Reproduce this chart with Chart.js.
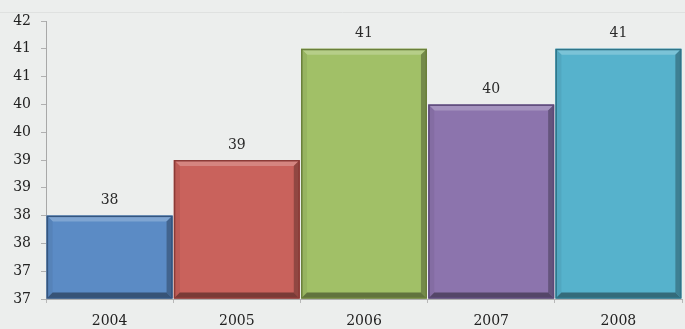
<!DOCTYPE html>
<html>
<head>
<meta charset="utf-8">
<script src="https://cdn.jsdelivr.net/npm/chart.js@4"></script>
<style>
  html, body { margin: 0; padding: 0; background: #eceeed; }
  #wrap { width: 685px; height: 329px; }
</style>
</head>
<body>
<div id="wrap"><canvas id="barChart" width="685" height="329"></canvas></div>
<script>
// Data
var years  = ['2004', '2005', '2006', '2007', '2008'];
var values = [38.5, 39.5, 41.5, 40.5, 41.5];
var yMin = 37, yMax = 42, yStep = 0.5;

// Colours (fill / edge)
var fills = ['#5b8bc5', '#c9625c', '#a1c067', '#8c74ad', '#56b2cc'];
var edges = ['#34557f', '#8b3b37', '#6a7f3b', '#5b4977', '#2f7488'];
var labelFont = '"DejaVu Serif", serif';

function shade(hex, amt) {
    var n = parseInt(hex.slice(1), 16);
    var r = (n >> 16) & 255, g = (n >> 8) & 255, b = n & 255;
    function f(c) { return Math.max(0, Math.min(255, Math.round(amt > 0 ? c + (255 - c) * amt : c * (1 + amt)))); }
    return 'rgb(' + f(r) + ',' + f(g) + ',' + f(b) + ')';
}

// Bevel + value labels
var bevelPlugin = {
    id: 'bevel',
    beforeDraw: function(chart) {
        // faint frame line at the top of the plot
        var c = chart.ctx;
        c.save();
        c.strokeStyle = '#dfe1e0';
        c.lineWidth = 1;
        c.beginPath();
        c.moveTo(0, 12.5); c.lineTo(chart.width, 12.5);
        c.stroke();
        c.restore();
    },
    afterDatasetsDraw: function(chart) {
        var ctx = chart.ctx;
        var meta = chart.getDatasetMeta(0);
        meta.data.forEach(function(bar, i) {
            var l = bar.x - bar.width / 2, r = bar.x + bar.width / 2;
            var t = bar.y, b = Math.min(bar.base, chart.chartArea.bottom), s = 6;
            ctx.save();
            // top bevel
            ctx.fillStyle = shade(fills[i], 0.22);
            ctx.beginPath();
            ctx.moveTo(l, t); ctx.lineTo(r, t); ctx.lineTo(r - s, t + s); ctx.lineTo(l + s, t + s);
            ctx.closePath(); ctx.fill();
            // left bevel
            ctx.fillStyle = shade(fills[i], -0.06);
            ctx.beginPath();
            ctx.moveTo(l, t); ctx.lineTo(l + s, t + s); ctx.lineTo(l + s, b - s); ctx.lineTo(l, b);
            ctx.closePath(); ctx.fill();
            // right bevel
            ctx.fillStyle = shade(fills[i], -0.28);
            ctx.beginPath();
            ctx.moveTo(r, t); ctx.lineTo(r - s, t + s); ctx.lineTo(r - s, b - s); ctx.lineTo(r, b);
            ctx.closePath(); ctx.fill();
            // bottom bevel
            ctx.fillStyle = shade(fills[i], -0.4);
            ctx.beginPath();
            ctx.moveTo(l, b); ctx.lineTo(l + s, b - s); ctx.lineTo(r - s, b - s); ctx.lineTo(r, b);
            ctx.closePath(); ctx.fill();
            // outline
            ctx.strokeStyle = edges[i];
            ctx.lineWidth = 1.5;
            ctx.strokeRect(l + 0.75, t + 0.75, r - l - 1.5, b - t - 1.5);
            // value label
            ctx.fillStyle = '#2a2a2a';
            ctx.font = '14px ' + labelFont;
            ctx.textAlign = 'center';
            ctx.textBaseline = 'middle';
            ctx.fillText(Math.floor(values[i]), bar.x, t - 15);
            ctx.restore();
        });
    }
};

const ctx = document.getElementById('barChart').getContext('2d');
const barChart = new Chart(ctx, {
    type: 'bar',
    data: {
        labels: years,
        datasets: [{
            data: values,
            base: yMin,
            backgroundColor: fills,
            borderWidth: 0,
            categoryPercentage: 1.0,
            barPercentage: 0.99
        }]
    },
    options: {
        responsive: false,
        animation: false,
        layout: { padding: { left: 0, right: 3, top: 21, bottom: 0 } },
        plugins: { legend: { display: false }, tooltip: { enabled: false } },
        scales: {
            x: {
                grid: { drawOnChartArea: false, tickLength: 4, color: '#b8b8b8' },
                border: { display: true, color: '#b0b0b0' },
                ticks: { color: '#222', padding: 10, font: { family: labelFont, size: 14 } },
                afterFit: function(scale) { scale.height = 30; }
            },
            y: {
                min: yMin, max: yMax,
                grid: { drawOnChartArea: false, tickLength: 5, color: '#b0b0b0' },
                border: { display: true, color: '#a8a8a8' },
                ticks: {
                    stepSize: yStep,
                    color: '#222',
                    padding: 10,
                    font: { family: labelFont, size: 14 },
                    callback: function(v) { return Math.floor(v); }
                },
                afterFit: function(scale) { scale.width = 46; }
            }
        }
    },
    plugins: [bevelPlugin]
});
</script>
</body>
</html>
